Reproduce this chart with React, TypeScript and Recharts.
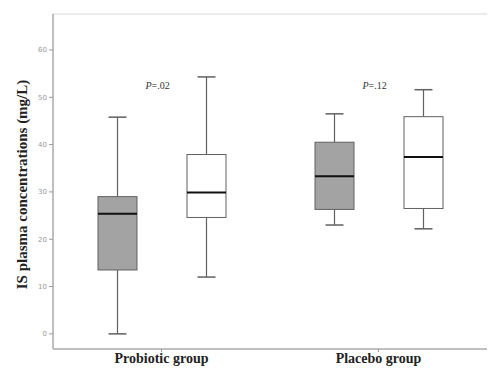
import {
  Bar,
  ComposedChart,
  ReferenceDot,
  ReferenceLine,
  XAxis,
  YAxis,
} from "recharts";

const GROUPS = ["Probiotic group", "Placebo group"];

// box stats per group: [min, q1, median, q3, max]
const BEFORE_STATS = [
  [0, 13.5, 25.4, 29.0, 45.8],
  [23.0, 26.3, 33.3, 40.5, 46.5],
];
const AFTER_STATS = [
  [12.0, 24.6, 29.9, 37.9, 54.3],
  [22.2, 26.5, 37.4, 45.9, 51.6],
];

const P_VALUES = [".02", ".12"];
const P_LABEL_Y = 52.3;

const Y_TICKS = [0, 10, 20, 30, 40, 50, 60];
const Y_DOMAIN: [number, number] = [-3.2, 67.6];

const SERIF = "'Liberation Serif', 'DejaVu Serif', serif";

const data = GROUPS.map((group, i) => ({
  group,
  before: [BEFORE_STATS[i][0], BEFORE_STATS[i][4]],
  after: [AFTER_STATS[i][0], AFTER_STATS[i][4]],
  beforeStats: BEFORE_STATS[i],
  afterStats: AFTER_STATS[i],
  p: P_VALUES[i],
}));

function makeBoxShape(statsKey: "beforeStats" | "afterStats", fill: string) {
  return (props: any) => {
    const { x, y, width, height, payload } = props;
    const [min, q1, med, q3, max] = payload[statsKey];
    // the bar spans [min, max]; the scale is linear so interpolate inside it
    const toY = (v: number) => y + ((max - v) / (max - min)) * height;
    const cx = x + width / 2;
    const capHalf = 9;
    const stroke = "#606060";
    return (
      <g>
        <line x1={cx} x2={cx} y1={toY(max)} y2={toY(q3)} stroke={stroke} strokeWidth={1.2} />
        <line x1={cx} x2={cx} y1={toY(q1)} y2={toY(min)} stroke={stroke} strokeWidth={1.2} />
        <line x1={cx - capHalf} x2={cx + capHalf} y1={toY(max)} y2={toY(max)} stroke={stroke} strokeWidth={1.5} />
        <line x1={cx - capHalf} x2={cx + capHalf} y1={toY(min)} y2={toY(min)} stroke={stroke} strokeWidth={1.5} />
        <rect
          x={x}
          y={toY(q3)}
          width={width}
          height={toY(q1) - toY(q3)}
          fill={fill}
          stroke={stroke}
          strokeWidth={1}
        />
        <line x1={x} x2={x + width} y1={toY(med)} y2={toY(med)} stroke="#111" strokeWidth={2} />
      </g>
    );
  };
}

const renderYLabel = (props: any) => {
  const { viewBox } = props;
  const cy = viewBox.y + viewBox.height / 2 + 3;
  return (
    <text
      x={27}
      y={cy}
      transform={`rotate(-90, 27, ${cy})`}
      textAnchor="middle"
      fontFamily={SERIF}
      fontWeight="bold"
      fontSize={15}
      fill="#222"
    >
      IS plasma concentrations (mg/L)
    </text>
  );
};

export default function App() {
  return (
    <div style={{ position: "absolute", left: 0, top: 0, background: "#fff" }}>
      <ComposedChart
        width={489}
        height={369}
        data={data}
        margin={{ top: 14, right: 2, bottom: 0, left: 0 }}
        barGap={50}
      >
        <XAxis
          dataKey="group"
          height={20}
          tickSize={3}
          tickMargin={1}
          axisLine={{ stroke: "#aaa", strokeWidth: 1.5 }}
          tickLine={{ stroke: "#999" }}
          tick={{ fontFamily: SERIF, fontWeight: "bold", fontSize: 14, fill: "#222" }}
        />
        <YAxis
          type="number"
          domain={Y_DOMAIN}
          ticks={Y_TICKS}
          width={53}
          tickSize={4}
          tickMargin={2}
          axisLine={{ stroke: "#aaa", strokeWidth: 1.5 }}
          tickLine={{ stroke: "#999" }}
          tick={{ fontFamily: "'DejaVu Sans', sans-serif", fontSize: 7, fill: "#999" }}
          label={{ content: renderYLabel }}
          allowDataOverflow
        />
        <ReferenceLine y={Y_DOMAIN[1]} stroke="#e6e6e6" strokeWidth={1.5} />
        <Bar
          dataKey="before"
          barSize={39}
          isAnimationActive={false}
          shape={makeBoxShape("beforeStats", "#a3a3a3")}
        />
        <Bar
          dataKey="after"
          barSize={39}
          isAnimationActive={false}
          shape={makeBoxShape("afterStats", "#ffffff")}
        />
        {data.map((d) => (
          <ReferenceDot
            key={d.group}
            x={d.group}
            y={P_LABEL_Y}
            r={0}
            shape={(props: any) => (
              <text
                x={props.cx - 4}
                y={props.cy + 3}
                textAnchor="middle"
                fontFamily={SERIF}
                fontSize={10}
                fill="#333"
              >
                <tspan fontStyle="italic">P</tspan>={d.p}
              </text>
            )}
          />
        ))}
      </ComposedChart>
    </div>
  );
}
